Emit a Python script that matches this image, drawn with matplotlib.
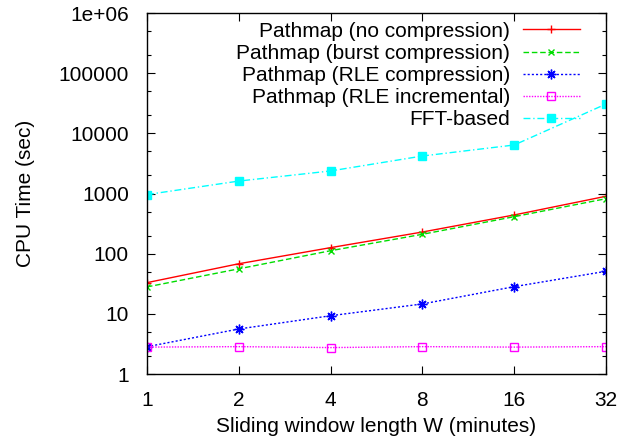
import matplotlib
matplotlib.use("Agg")
import matplotlib.pyplot as plt
from matplotlib.ticker import FixedLocator, FuncFormatter, NullFormatter

plt.rcParams['font.family'] = ['Liberation Sans', 'DejaVu Sans']

# sliding window length (minutes)
window = [1, 2, 4, 8, 16, 32]

# CPU time (sec)
no_comp = [33, 68, 126, 229, 440, 900]
burst_comp = [28, 56, 112, 210, 412, 820]
rle_comp = [2.84, 5.6, 9.3, 14.6, 28.3, 51]
rle_incr = [2.8, 2.85, 2.75, 2.85, 2.8, 2.85]
fft_based = [960, 1610, 2370, 4200, 6400, 30700]

labels = ["Pathmap (no compression)", "Pathmap (burst compression)",
          "Pathmap (RLE compression)", "Pathmap (RLE incremental)", "FFT-based"]

FS = 15
DPI = 100
fig = plt.figure(figsize=(6.27, 4.38), dpi=DPI)
ax = fig.add_axes([0.2344, 0.1461, 0.7321, 0.8242])

ax.plot(window, no_comp, color="red", lw=1, ls="-", marker="+", ms=6, mew=1,
        label=labels[0])
ax.plot(window, burst_comp, color="#00dd00", lw=1, ls=(0, (4, 2)), marker="x", ms=5, mew=1,
        label=labels[1])
ax.plot(window, rle_comp, color="blue", lw=1, ls=(0, (1.5, 1.5)), marker=(8, 2, 0), ms=7, mew=1,
        label=labels[2])
ax.plot(window, rle_incr, color="magenta", lw=1, ls=(0, (1, 1)), marker="s", ms=6, mew=1,
        mfc="none", label=labels[3])
ax.plot(window, fft_based, color="cyan", lw=1, ls=(0, (5, 2, 1, 2)), marker="s", ms=6,
        label=labels[4])

ax.set_xscale("log", base=2)
ax.set_yscale("log")
ax.set_xlim(1, 32)
ax.set_ylim(1, 1e6)

ax.xaxis.set_major_locator(FixedLocator(window))
ax.xaxis.set_major_formatter(FuncFormatter(lambda v, p: "%d" % v))
ax.xaxis.set_minor_locator(FixedLocator([]))

decades = [10 ** k for k in range(7)]
minors = [m * 10 ** k for k in range(6) for m in (2, 5)]
ax.yaxis.set_major_locator(FixedLocator(decades))
ax.yaxis.set_major_formatter(FuncFormatter(lambda v, p: "1e+06" if v >= 1e6 else "%d" % v))
ax.yaxis.set_minor_locator(FixedLocator(minors))
ax.yaxis.set_minor_formatter(NullFormatter())

ax.tick_params(which="both", direction="in", top=True, right=True, labelsize=FS, width=0.8)
ax.tick_params(which="major", length=6)
ax.tick_params(axis="x", which="major", pad=12)
ax.tick_params(axis="y", which="major", pad=13)
ax.tick_params(which="minor", length=3)
for s in ax.spines.values():
    s.set_linewidth(1)

ax.set_xlabel("Sliding window length W (minutes)", fontsize=FS, labelpad=5)
ax.set_ylabel("CPU Time (sec)", fontsize=FS, labelpad=17)

leg = ax.legend(loc="upper right", bbox_to_anchor=(0.943, 0.976), frameon=False,
                markerfirst=False, fontsize=FS, handlelength=2.75, handletextpad=0.6,
                labelspacing=0.15, borderpad=0, borderaxespad=0)

# gnuplot right-aligns key labels: redraw them flush right at the widest label's edge
fig.canvas.draw()
boxes = [t.get_window_extent() for t in leg.get_texts()]
right = max(b.x1 for b in boxes)
for t, b in zip(leg.get_texts(), boxes):
    fig.text(right, b.y0, t.get_text(), transform=None, ha="right", va="bottom",
             fontsize=FS)
    t.set_visible(False)

fig.savefig("out.png", dpi=DPI)
